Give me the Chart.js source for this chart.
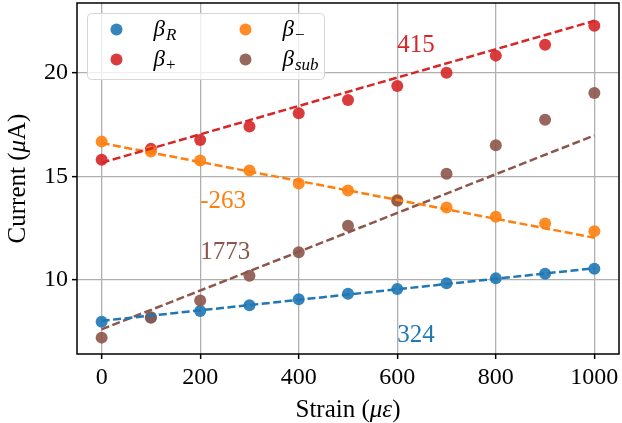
<!DOCTYPE html>
<html lang="en">
<head>
  <meta charset="UTF-8">
  <title>Current vs Strain</title>
  <script src="https://cdn.jsdelivr.net/npm/chart.js"></script>
  <style>
    body { margin: 0; background: #fff; }
    canvas { display: block; }
  </style>
</head>
<body>
  <canvas id="strainChart" width="622" height="423"></canvas>

  <script>
    // measured currents (uA) at each strain step (micro-strain)
    const strain = [0, 100, 200, 300, 400, 500, 600, 700, 800, 900, 1000];
    const betaR = [7.99, 8.20, 8.51, 8.78, 9.07, 9.34, 9.57, 9.84, 10.08, 10.30, 10.54];
    const betaPlus = [15.81, 16.33, 16.76, 17.41, 18.05, 18.69, 19.36, 20.00, 20.83, 21.36, 22.27];
    const betaMinus = [16.68, 16.20, 15.77, 15.29, 14.66, 14.32, 13.86, 13.50, 13.05, 12.73, 12.36];
    const betaSub = [7.22, 8.18, 9.01, 10.21, 11.34, 12.62, 13.83, 15.13, 16.50, 17.73, 19.03];

    // linear fit end values at strain 0 and 1000
    const fitX = [0, 1000];
    const fitR = [8.03, 10.57];
    const fitPlus = [15.66, 22.51];
    const fitMinus = [16.61, 12.04];
    const fitSub = [7.62, 16.98];

    // sensitivity labels per series
    const sensR = '324';
    const sensPlus = '415';
    const sensMinus = '-263';
    const sensSub = '1773';

    const xTicks = [0, 200, 400, 600, 800, 1000];
    const yTicks = [10, 15, 20];

    const serif = '"Liberation Serif", "DejaVu Serif", serif';
    const colors = {
      blue: '#1f77b4', red: '#d62728', orange: '#ff7f0e', brown: '#8c564b'
    };
    const fill = {
      blue: 'rgba(31,119,180,0.9)', red: 'rgba(214,39,40,0.9)',
      orange: 'rgba(255,127,14,0.9)', brown: 'rgba(140,86,75,0.9)'
    };

    const toPoints = (xs, ys) => xs.map((x, i) => ({ x: x, y: ys[i] }));

    const scatterSet = (label, values, key, order) => ({
      label: label,
      data: toPoints(strain, values),
      showLine: false,
      pointRadius: 6,
      pointHoverRadius: 6,
      pointBorderWidth: 0,
      backgroundColor: fill[key],
      borderColor: fill[key],
      order: order
    });

    const fitSet = (label, values, key) => ({
      label: label,
      data: toPoints(fitX, values),
      showLine: true,
      pointRadius: 0,
      borderColor: colors[key],
      borderWidth: 2.5,
      borderDash: [8, 3.5],
      fill: false,
      order: 0
    });

    // draws a run of text pieces (regular / italic / subscript) in a row
    function drawRuns(ctx, runs, x, y, align) {
      let total = 0;
      runs.forEach(r => {
        ctx.font = (r.italic ? 'italic ' : '') + r.size + 'px ' + serif;
        r.w = ctx.measureText(r.text).width;
        total += r.w + (r.gap || 0);
      });
      let cx = align === 'center' ? x - total / 2 : x;
      runs.forEach(r => {
        ctx.font = (r.italic ? 'italic ' : '') + r.size + 'px ' + serif;
        ctx.fillText(r.text, cx + (r.gap || 0), y + (r.dy || 0));
        cx += r.w + (r.gap || 0);
      });
    }

    const legendItems = [
      { key: 'blue', sub: 'R', subItalic: true },
      { key: 'red', sub: '+', subItalic: false },
      { key: 'orange', sub: '\u2212', subItalic: false },
      { key: 'brown', sub: 'sub', subItalic: true }
    ];

    const decorPlugin = {
      id: 'decor',
      afterDatasetsDraw(chart) {
        const { ctx, chartArea: a, scales: { x, y } } = chart;
        ctx.save();

        // slope annotations
        const notes = [
          { text: sensPlus, x: 600, y: 21, key: 'red' },
          { text: sensMinus, x: 200, y: 13.5, key: 'orange' },
          { text: sensSub, x: 200, y: 11, key: 'brown' },
          { text: sensR, x: 600, y: 7, key: 'blue' }
        ];
        ctx.textBaseline = 'alphabetic';
        ctx.textAlign = 'left';
        ctx.font = '25px ' + serif;
        notes.forEach(n => {
          ctx.fillStyle = colors[n.key];
          ctx.fillText(n.text, x.getPixelForValue(n.x), y.getPixelForValue(n.y));
        });

        // legend box, two columns
        const bx = a.left + 10.5, by = a.top + 10.5, bw = 237, bh = 66;
        ctx.beginPath();
        ctx.roundRect(bx, by, bw, bh, 4);
        ctx.fillStyle = 'rgba(255,255,255,0.8)';
        ctx.fill();
        ctx.strokeStyle = '#d6d6d6';
        ctx.lineWidth = 1;
        ctx.stroke();

        legendItems.forEach((item, i) => {
          const c = i < 2 ? 0 : 1;
          const r = i % 2;
          const mx = bx + 29 + c * 129;
          const my = by + 16 + r * 30;
          ctx.beginPath();
          ctx.arc(mx, my, 6, 0, Math.PI * 2);
          ctx.fillStyle = fill[item.key];
          ctx.fill();
          ctx.fillStyle = '#000';
          drawRuns(ctx, [
            { text: '\u03b2', size: 23, italic: true },
            { text: item.sub, size: 17, italic: item.subItalic, dy: 4, gap: 1 }
          ], mx + 37, my + 6, 'left');
        });

        ctx.restore();
      },
      afterDraw(chart) {
        const { ctx, chartArea: a } = chart;
        ctx.save();
        // axes frame
        ctx.strokeStyle = '#000';
        ctx.lineWidth = 1.5;
        ctx.strokeRect(a.left, a.top, a.right - a.left, a.bottom - a.top);

        // axis titles
        ctx.fillStyle = '#000';
        ctx.textBaseline = 'alphabetic';
        drawRuns(ctx, [
          { text: 'Strain (', size: 25 },
          { text: '\u03bc\u03b5', size: 25, italic: true },
          { text: ')', size: 25 }
        ], (a.left + a.right) / 2, 417, 'center');

        ctx.translate(25, (a.top + a.bottom) / 2);
        ctx.rotate(-Math.PI / 2);
        drawRuns(ctx, [
          { text: 'Current (', size: 25 },
          { text: '\u03bc', size: 25, italic: true },
          { text: 'A)', size: 25 }
        ], 0, 0, 'center');
        ctx.restore();
      }
    };

    new Chart(document.getElementById('strainChart'), {
      type: 'scatter',
      data: {
        datasets: [
          fitSet('fit R', fitR, 'blue'),
          fitSet('fit +', fitPlus, 'red'),
          fitSet('fit -', fitMinus, 'orange'),
          fitSet('fit sub', fitSub, 'brown'),
          scatterSet('beta R', betaR, 'blue', 4),
          scatterSet('beta +', betaPlus, 'red', 3),
          scatterSet('beta -', betaMinus, 'orange', 2),
          scatterSet('beta sub', betaSub, 'brown', 1)
        ]
      },
      options: {
        responsive: false,
        animation: false,
        devicePixelRatio: 1,
        layout: { autoPadding: false, padding: { top: 3, right: 3, left: 0, bottom: 0 } },
        plugins: {
          legend: { display: false },
          tooltip: { enabled: false }
        },
        scales: {
          x: {
            type: 'linear',
            min: -50,
            max: 1050,
            afterBuildTicks: s => { s.ticks = xTicks.map(v => ({ value: v })); },
            afterFit: s => { s.height = 69; s.paddingLeft = 0; s.paddingRight = 0; },
            grid: { color: '#b0b0b0', lineWidth: 1.3, tickColor: '#000', tickWidth: 1.5, tickLength: 5 },
            border: { display: false },
            ticks: {
              color: '#000',
              padding: 4,
              maxRotation: 0,
              font: { family: serif, size: 24 },
              callback: v => String(v)
            }
          },
          y: {
            min: 6.43,
            max: 23.37,
            afterBuildTicks: s => { s.ticks = yTicks.map(v => ({ value: v })); },
            afterFit: s => { s.width = 77; s.paddingTop = 0; s.paddingBottom = 0; },
            grid: { color: '#b0b0b0', lineWidth: 1.3, tickColor: '#000', tickWidth: 1.5, tickLength: 5 },
            border: { display: false },
            ticks: {
              color: '#000',
              padding: 4,
              font: { family: serif, size: 24 },
              callback: v => String(v)
            }
          }
        }
      },
      plugins: [decorPlugin]
    });
  </script>
</body>
</html>
